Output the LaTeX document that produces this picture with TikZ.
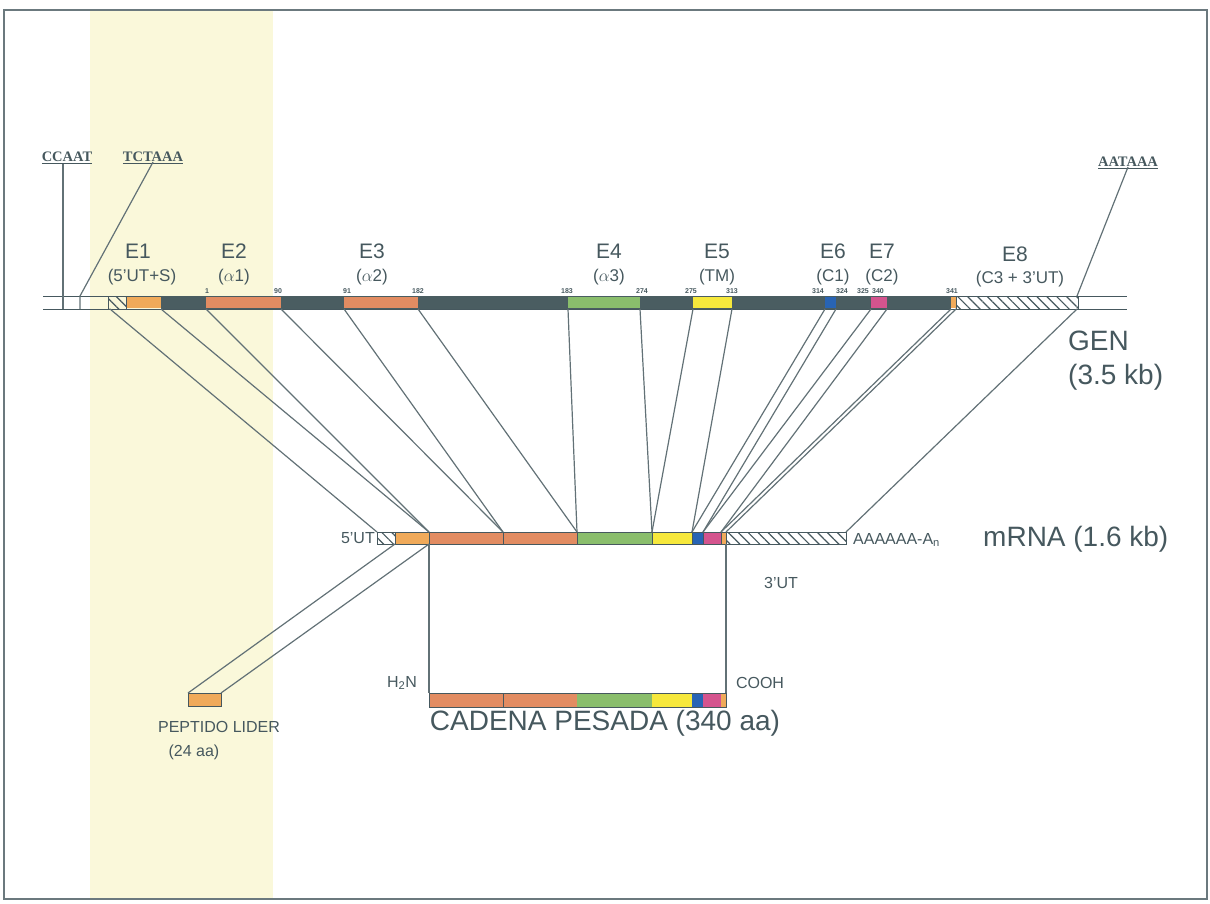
\documentclass[tikz,border=0pt]{standalone}
\usepackage{fontspec}
\setmainfont{Liberation Sans}
\newfontfamily\seqfont{Liberation Serif}
\usetikzlibrary{patterns.meta}
\definecolor{ink}{RGB}{70,88,94}
\definecolor{intron}{RGB}{74,93,97}
\definecolor{exsalmon}{RGB}{226,140,98}
\definecolor{exorange}{RGB}{240,170,90}
\definecolor{exgreen}{RGB}{138,190,108}
\definecolor{exyellow}{RGB}{246,232,60}
\definecolor{exblue}{RGB}{40,100,180}
\definecolor{expink}{RGB}{212,84,142}
\definecolor{scan}{RGB}{250,248,218}

\begin{document}
\begin{tikzpicture}[x=1pt, y=-1pt,
  txt/.style={text=ink, inner sep=0pt},
  exlab/.style={txt, font=\fontsize{21}{24}\selectfont},
  sublab/.style={txt, font=\fontsize{17}{20}\selectfont},
  numlab/.style={txt, font=\fontsize{7}{8}\selectfont\bfseries},
  biglab/.style={txt, font=\fontsize{28}{33}\selectfont},
  smalllab/.style={txt, font=\fontsize{16}{19}\selectfont},
  seqlab/.style={txt, font=\seqfont\fontsize{14.5}{17}\selectfont\bfseries},
  hatch/.style={draw=ink, line width=0.8pt, pattern={Lines[angle=-45,distance=7pt,line width=1.2pt]}, pattern color=ink},
  link/.style={draw=ink!85, line width=1.2pt},
]
\useasboundingbox (0,0) rectangle (1210,903);
\fill[scan] (90,11) rectangle (273,898);
\draw[ink!80, line width=2pt] (4,10) rectangle (1207,899);

% gene
\draw[ink, line width=0.9pt] (43,296) -- (1127,296) (43,309) -- (1127,309);
\fill[intron] (161,296) rectangle (951,309);
\foreach \a/\b/\c in {126/161/exorange, 206/281/exsalmon, 344/418/exsalmon, 568/640/exgreen,
  693/732/exyellow, 825/836/exblue, 871/887/expink, 951/956/exorange}
  \fill[\c] (\a,297) rectangle (\b,308);
\path[hatch] (108,296) rectangle (126,309);
\path[hatch] (956,296) rectangle (1078,309);
\foreach \x/\n in {207/1, 278/90, 347/91, 418/182, 567/183, 642/274, 691/275, 732/313,
  818/314, 842/324, 863/325, 878/340, 952/341}
  \node[numlab] at (\x,291) {\n};

\node[exlab] (e1) at (138,251) {E1};
\node[exlab] (e2) at (234,251) {E2};
\node[exlab] (e3) at (372,251) {E3};
\node[exlab] (e4) at (609,251) {E4};
\node[exlab] (e5) at (717,251) {E5};
\node[exlab] (e6) at (833,251) {E6};
\node[exlab] (e7) at (882,251) {E7};
\node[exlab] (e8) at (1015,254) {E8};
\node[sublab] (d1) at (142,277) {(5'UT+S)};
\node[sublab] (d2) at (234,277) {($\alpha$1)};
\node[sublab] (d3) at (372,277) {($\alpha$2)};
\node[sublab] (d4) at (609,277) {($\alpha$3)};
\node[sublab] (d5) at (717,277) {(TM)};
\node[sublab] (d6) at (833,277) {(C1)};
\node[sublab] (d7) at (882,277) {(C2)};
\node[sublab] (d8) at (1020,279) {(C3 + 3'UT)};

\node[seqlab] (ccaat) at (67,158) {\underline{CCAAT}};
\node[seqlab] (tctaaa) at (153,158) {\underline{TCTAAA}};
\node[seqlab] (aataaa) at (1128,163) {\underline{AATAAA}};
\coordinate (ccaatbox) at (63,309);
\coordinate (tctaaatop) at (80,296);
\coordinate (tctaaabox) at (80,309);
\coordinate (aataaabox) at (1077,296);
\draw[link] (ccaat.south -| ccaatbox) -- (ccaatbox);
\draw[link] ([yshift=2pt]tctaaa.south) -- (tctaaatop) -- (tctaaabox);
\draw[link] ([yshift=2pt]aataaa.south) -- (aataaabox);

\node[biglab, anchor=west] (gen) at (1068,341) {GEN};
\node[biglab, anchor=west] (genkb) at (1068,377) {(3.5 kb)};

% mRNA
\foreach \a/\b/\c in {395/429/exorange, 429/503/exsalmon, 503/577/exsalmon, 577/652/exgreen,
  652/692/exyellow, 692/703/exblue, 703/721/expink, 721/726/exorange}
  \fill[\c] (\a,532) rectangle (\b,544);
\path[hatch] (377,532) rectangle (395,544);
\path[hatch] (726,532) rectangle (846,544);
\draw[ink, line width=0.9pt] (377,532) rectangle (846,544);
\foreach \x in {429,503,577,652,692,703,721,726}
  \draw[ink, line width=0.6pt] (\x,532) -- (\x,544);

\node[smalllab, anchor=east] (ut5) at (375,538) {5'UT};
\node[smalllab, anchor=west] (polya) at (853,540) {AAAAAA-A\textsubscript{n}};
\node[smalllab] (ut3) at (781,583) {3'UT};
\node[biglab, anchor=west] (mrna) at (983,539) {mRNA (1.6 kb)};

\foreach \g/\m [count=\i] in {110/377, 161/429, 206/429, 281/503, 344/503, 418/577, 568/577,
  640/652, 693/652, 732/692, 825/692, 836/703, 871/703, 887/721, 951/721, 956/726, 1077/846} {
  \coordinate (g\i) at (\g,309);
  \coordinate (m\i) at (\m,532);
  \draw[link] (g\i) -- (m\i);
}

% protein
\foreach \a/\b/\c in {429/503/exsalmon, 503/577/exsalmon, 577/652/exgreen,
  652/692/exyellow, 692/703/exblue, 703/721/expink, 721/726/exorange}
  \fill[\c] (\a,693) rectangle (\b,707);
\draw[ink, line width=0.9pt] (429,693) rectangle (726,707);
\draw[ink, line width=0.6pt] (503,693) -- (503,707);
\coordinate (nterm) at (429,693);
\coordinate (cterm) at (726,693);
\draw[link] (429,544) -- (nterm);
\draw[link] (726,544) -- (cterm);
\node[smalllab] (h2n) at (402,683) {H\textsubscript{2}N};
\node[smalllab] (cooh) at (760,683) {COOH};
\node[biglab] (chain) at (605,723) {CADENA PESADA (340 aa)};

\fill[exorange] (188,693) rectangle (221,706);
\draw[ink, line width=0.9pt] (188,693) rectangle (221,706);
\coordinate (lider1) at (188,693);
\coordinate (lider2) at (221,693);
\draw[link] (395,544) -- (lider1);
\draw[link] (429,544) -- (lider2);
\node[smalllab] (lider) at (219,727) {PEPTIDO LIDER};
\node[smalllab] (lideraa) at (194,752) {(24 aa)};
\end{tikzpicture}
\end{document}
